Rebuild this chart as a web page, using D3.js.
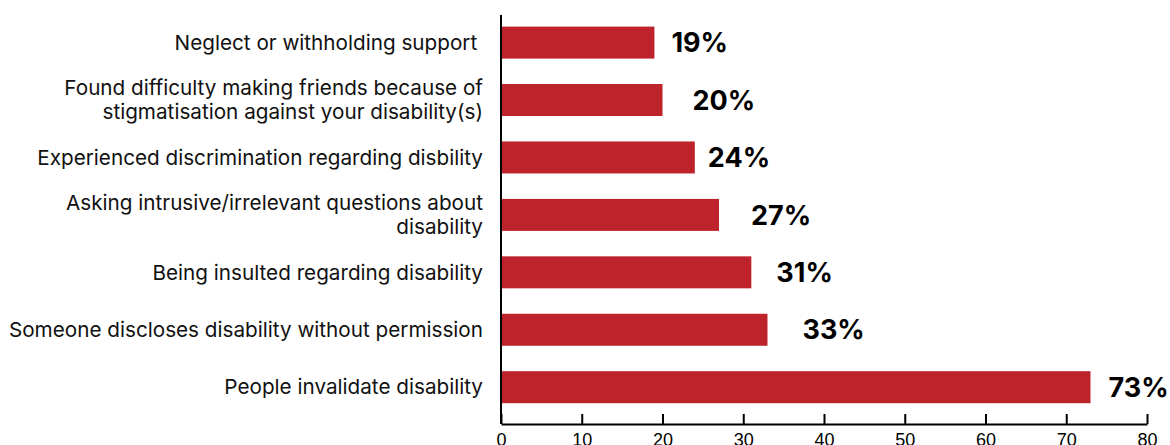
<!DOCTYPE html>
<html>
<head>
<meta charset="utf-8">
<script src="https://cdn.jsdelivr.net/npm/d3@7"></script>
<style>
  html, body { margin: 0; padding: 0; background: #fff; }
  svg { display: block; }
</style>
</head>
<body>
<svg id="chart" width="1170" height="445"></svg>
<script>
const categories = [
  ["Neglect or withholding support "],
  ["Found difficulty making friends because of", "stigmatisation against your disability(s)"],
  ["Experienced discrimination regarding disbility"],
  ["Asking intrusive/irrelevant questions about", "disability"],
  ["Being insulted regarding disability"],
  ["Someone discloses disability without permission"],
  ["People invalidate disability"]
];
const values = [19, 20, 24, 27, 31, 33, 73];
const valueLabels = ["19%", "20%", "24%", "27%", "31%", "33%", "73%"];
const xTicks = [0, 10, 20, 30, 40, 50, 60, 70, 80];
const labelGap = [17, 30, 13, 32, 25, 35, 18];

const svg = d3.select("#chart");
const left = 501, right = 1147, axisY = 424;

const x = d3.scaleLinear().domain([0, 80]).range([left, right]);
const y = d3.scaleBand()
  .domain(d3.range(values.length))
  .range([26.6, 403.2])
  .paddingInner(0.443)
  .paddingOuter(0);

// bars
svg.append("g").selectAll("rect")
  .data(values)
  .join("rect")
  .attr("x", x(0))
  .attr("y", (d, i) => y(i))
  .attr("width", d => x(d) - x(0))
  .attr("height", y.bandwidth())
  .attr("fill", "#be222b");

// value labels
svg.append("g").selectAll("text")
  .data(values)
  .join("text")
  .attr("x", (d, i) => x(d) + labelGap[i])
  .attr("y", (d, i) => y(i) + y.bandwidth() / 2)
  .attr("dy", "0.36em")
  .attr("font-family", "Inter, 'Noto Sans', sans-serif")
  .attr("font-weight", 700)
  .attr("font-size", 27)
  .attr("fill", "#000")
  .text((d, i) => valueLabels[i]);

// category labels
const catG = svg.append("g");
categories.forEach((lines, i) => {
  const cy = y(i) + y.bandwidth() / 2;
  const lh = 24;
  const t = catG.append("text")
    .attr("text-anchor", "end")
    .attr("font-family", "Inter, 'Noto Sans', sans-serif")
    .attr("font-size", 20.7)
    .attr("fill", "#111")
    .style("white-space", "pre");
  lines.forEach((ln, j) => {
    t.append("tspan")
      .attr("x", 483)
      .attr("y", cy + (j - (lines.length - 1) / 2) * lh)
      .attr("dy", "0.35em")
      .text(ln);
  });
});

// x axis
const xAxis = d3.axisBottom(x).tickValues(xTicks).tickSize(-10).tickPadding(9).tickSizeOuter(0);
const gx = svg.append("g").attr("transform", `translate(0,${axisY})`).call(xAxis);
gx.select(".domain").attr("stroke", "#000").attr("stroke-width", 2);
gx.selectAll(".tick line").attr("stroke", "#000").attr("stroke-width", 2);
gx.selectAll(".tick text")
  .attr("font-family", "'Liberation Sans', Arial, sans-serif")
  .attr("font-size", 18)
  .attr("fill", "#000");

// y axis line
const yAxis = d3.axisLeft(y).tickSize(0).tickFormat("");
const gy = svg.append("g").attr("transform", `translate(${left},0)`).call(yAxis);
gy.select(".domain").attr("d", `M0,15V${axisY}`).attr("stroke", "#000").attr("stroke-width", 2);
</script>
</body>
</html>
